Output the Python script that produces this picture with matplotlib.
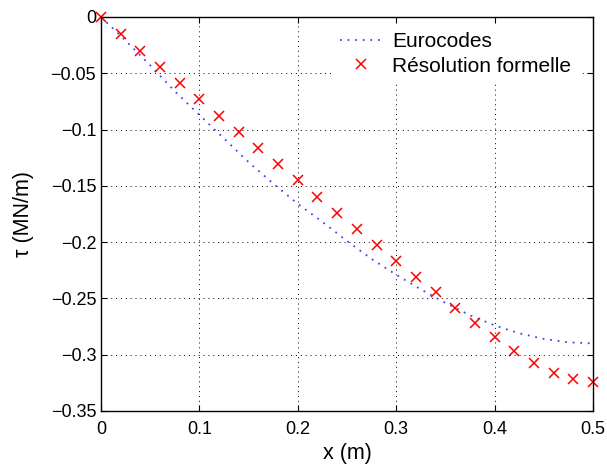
import numpy as np
import matplotlib.pyplot as plt

plt.rcParams['font.family'] = ['Liberation Sans', 'DejaVu Sans']

# Eurocodes curve
x_euro = [0, 0.025, 0.05, 0.075, 0.1, 0.125, 0.15, 0.175, 0.2, 0.225, 0.25,
          0.275, 0.3, 0.325, 0.35, 0.375, 0.4, 0.425, 0.45, 0.475, 0.5]
tau_euro = [0, -0.021, -0.043, -0.066, -0.087, -0.108, -0.129, -0.148, -0.166,
            -0.182, -0.199, -0.215, -0.229, -0.242, -0.254, -0.265, -0.274,
            -0.281, -0.286, -0.289, -0.290]

# Résolution formelle points
x_form = [0, 0.02, 0.04, 0.06, 0.08, 0.1, 0.12, 0.14, 0.16, 0.18, 0.2, 0.22,
          0.24, 0.26, 0.28, 0.3, 0.32, 0.34, 0.36, 0.38, 0.4, 0.42, 0.44,
          0.46, 0.48, 0.5]
tau_form = [0, -0.015, -0.030, -0.044, -0.059, -0.073, -0.088, -0.102, -0.116,
            -0.131, -0.145, -0.160, -0.174, -0.1886, -0.2025, -0.217, -0.231,
            -0.2446, -0.2585, -0.272, -0.2846, -0.2967, -0.307, -0.316,
            -0.322, -0.3245]

fig = plt.figure(figsize=(6.07, 4.67), dpi=100)
ax = fig.add_axes([0.1664, 0.12, 0.8106, 0.8436])

ax.plot(x_euro, tau_euro, linestyle=(0, (1, 3.2)), color='#4040ff', lw=1.3, label='Eurocodes')
ax.plot(x_form, tau_form, linestyle='none', marker='x', color='red',
        markersize=7.5, markeredgewidth=1.1, label='Résolution formelle', clip_on=False)

ax.set_xlim(0, 0.5)
ax.set_ylim(-0.35, 0)
ax.set_xticks([0, 0.1, 0.2, 0.3, 0.4, 0.5])
ax.set_xticklabels(['0', '0.1', '0.2', '0.3', '0.4', '0.5'])
ax.set_yticks([0, -0.05, -0.1, -0.15, -0.2, -0.25, -0.3, -0.35])
ax.set_yticklabels(['0', '\u22120.05', '\u22120.1', '\u22120.15', '\u22120.2',
                    '\u22120.25', '\u22120.3', '\u22120.35'])
ax.tick_params(direction='in', length=4, labelsize=13, top=True, right=True, width=0.8)
ax.tick_params(axis='x', pad=7)
ax.grid(True, linestyle=(0, (1, 4)), color='black', lw=0.7)
for s in ax.spines.values():
    s.set_linewidth(1.0)

ax.set_xlabel('x (m)', fontsize=15.5, labelpad=4)
ax.set_ylabel('\u03c4 (MN/m)', fontsize=15.5, labelpad=12)

leg = ax.legend(loc='upper right', bbox_to_anchor=(0.99, 1.003), fontsize=15,
                frameon=True, fancybox=False, edgecolor='white', framealpha=1,
                handlelength=2.0, handletextpad=0.5, borderpad=0.3, labelspacing=0.25)

fig.savefig('out.png', dpi=100)
